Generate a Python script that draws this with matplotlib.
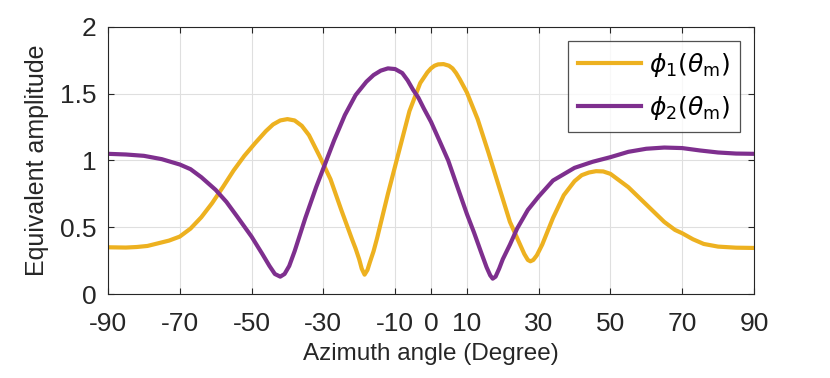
import numpy as np
import matplotlib
matplotlib.use('Agg')
import matplotlib.pyplot as plt

# Угол (градусы) и значения
theta1 = [-90, -85, -82, -79, -76, -73, -70, -67, -64, -61, -58, -55, -52, -49, -46,
          -44, -42, -40, -38, -36, -34, -31, -28, -25, -22, -21, -20, -19.3, -18.5,
          -17.7, -17, -16, -15, -12, -9, -6, -3, -1, 0, 1, 2, 3.5, 5, 6, 7, 8, 10,
          13, 16, 19, 22, 24, 25, 26, 27, 27.7, 28.5, 29.5, 31, 34, 37, 40, 42, 44,
          46, 48, 50, 52, 55, 60, 65, 68, 70, 73, 76, 80, 85, 90]
phi1 = [0.35, 0.348, 0.352, 0.36, 0.38, 0.40, 0.43, 0.49, 0.575, 0.68, 0.80, 0.925,
        1.035, 1.13, 1.22, 1.27, 1.30, 1.31, 1.30, 1.26, 1.19, 1.03, 0.86, 0.63,
        0.41, 0.34, 0.26, 0.19, 0.145, 0.18, 0.24, 0.32, 0.42, 0.75, 1.06, 1.37,
        1.58, 1.66, 1.69, 1.71, 1.72, 1.722, 1.71, 1.69, 1.655, 1.61, 1.51, 1.31,
        1.06, 0.80, 0.54, 0.42, 0.36, 0.30, 0.255, 0.245, 0.255, 0.29, 0.37, 0.57,
        0.74, 0.845, 0.89, 0.91, 0.92, 0.918, 0.90, 0.86, 0.80, 0.67, 0.54, 0.48,
        0.455, 0.41, 0.375, 0.355, 0.347, 0.345]

theta2 = [-90, -85, -80, -75, -70, -67, -64, -60, -57, -54, -50, -47, -45, -43.5,
          -42, -40.8, -39.5, -38, -35, -32, -30, -27, -24, -21, -18, -16, -14, -12,
          -10, -8, -6.5, -5, -3.5, -2, 0, 2.5, 4.8, 7, 10, 12, 14, 15.5, 16.5, 17.2,
          18, 19, 20, 22, 24, 27, 30, 34, 40, 45, 50, 55, 60, 65, 70, 75, 80, 85, 90]
phi2 = [1.05, 1.045, 1.035, 1.01, 0.97, 0.935, 0.875, 0.78, 0.69, 0.58, 0.43, 0.30,
        0.21, 0.15, 0.13, 0.15, 0.21, 0.32, 0.57, 0.80, 0.94, 1.15, 1.34, 1.49,
        1.59, 1.64, 1.673, 1.69, 1.685, 1.655, 1.60, 1.53, 1.47, 1.39, 1.29, 1.14,
        1.0, 0.83, 0.60, 0.46, 0.31, 0.20, 0.14, 0.115, 0.13, 0.19, 0.26, 0.37,
        0.49, 0.63, 0.73, 0.85, 0.945, 0.99, 1.025, 1.065, 1.088, 1.097, 1.093,
        1.075, 1.06, 1.052, 1.05]

xticks = [-90, -70, -50, -30, -10, 0, 10, 30, 50, 70, 90]
yticks = [0, 0.5, 1, 1.5, 2]
labels = [r'$\phi_1(\theta_{\mathrm{m}})$', r'$\phi_2(\theta_{\mathrm{m}})$']

plt.rcParams['font.family'] = ['Liberation Sans', 'DejaVu Sans']
plt.rcParams['axes.unicode_minus'] = False
dark = '#262626'

fig = plt.figure(figsize=(8.3, 3.78), dpi=100)
ax = fig.add_axes([0.1301, 0.2222, 0.7783, 0.7064])

ax.plot(theta1, phi1, color='#EDB120', linewidth=3, label=labels[0],
        solid_joinstyle='round')
ax.plot(theta2, phi2, color='#7E2F8E', linewidth=3, label=labels[1],
        solid_joinstyle='round')

ax.set_xlim(-90, 90)
ax.set_ylim(0, 2)
ax.set_xticks(xticks)
ax.set_yticks(yticks)
ax.set_yticklabels(['0', '0.5', '1', '1.5', '2'])
ax.grid(True, color='#dfdfdf', linewidth=0.8)
ax.set_axisbelow(True)

ax.tick_params(direction='in', length=4, width=0.8, color=dark,
               top=True, right=True, labelcolor=dark)
ax.tick_params(axis='y', labelsize=19, pad=8)
ax.tick_params(axis='x', labelsize=19, pad=13)
for s in ax.spines.values():
    s.set_color(dark)
    s.set_linewidth(0.8)

ax.set_xlabel('Azimuth angle (Degree)', fontsize=17.5, color=dark, labelpad=5)
ax.set_ylabel('Equivalent amplitude', fontsize=18, color=dark, labelpad=8)

leg = ax.legend(loc='upper right', fontsize=18, frameon=True, fancybox=False,
                handlelength=2.5, borderaxespad=0.55, labelspacing=0.6,
                handletextpad=0.35, borderpad=0.4)
leg.get_frame().set_edgecolor(dark)
leg.get_frame().set_linewidth(0.9)

plt.savefig('out.png', dpi=100)
